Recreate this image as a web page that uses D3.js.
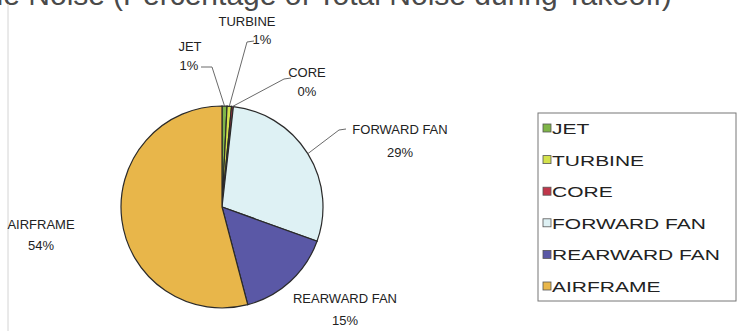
<!DOCTYPE html>
<html>
<head>
<meta charset="utf-8">
<script src="https://cdn.jsdelivr.net/npm/d3@7"></script>
<style>
  body { margin: 0; background: #fff; }
  text { font-family: "Liberation Sans", Arial, sans-serif; }
</style>
</head>
<body>
<div id="chart"></div>
<script>
// noise share by source, in percent
var sources = ['JET', 'TURBINE', 'CORE', 'FORWARD FAN', 'REARWARD FAN', 'AIRFRAME'];
var shares = [0.8, 0.7, 0.3, 28.7, 15.4, 54.1];
var colors = ['#7fb548', '#d4e24c', '#c0364a', '#def1f4', '#5a58a6', '#e8b64a'];

var width = 755, height = 331;

var svg = d3.select('#chart')
  .append('svg')
    .attr('width', width)
    .attr('height', height);

// title line, mostly above the top edge
svg.append('text')
    .attr('x', 105).attr('y', 5)
    .attr('font-size', '30px')
    .attr('fill', '#4a4a4a')
    .style('text-anchor', 'end')
    .text('Engine Noise');
svg.append('text')
    .attr('x', 113).attr('y', 5)
    .attr('font-size', '30px')
    .attr('fill', '#4a4a4a')
    .text('(Percentage of Total Noise during Takeoff)');

// plot area edge
svg.append('line')
    .attr('x1', 8).attr('x2', 8)
    .attr('y1', 4).attr('y2', height)
    .attr('stroke', '#d4d4d4');

var cx = 222, cy = 207, r = 101;

var data = sources.map(function(s, i) { return {name: s, value: shares[i], color: colors[i]}; });

var pie = d3.pie().sort(null).value(function(d) { return d.value; });
var arc = d3.arc().innerRadius(0).outerRadius(r);
var arcs = pie(data);

var g = svg.append('g')
    .attr('transform', 'translate(' + cx + ',' + cy + ')');

g.selectAll('path')
  .data(arcs)
  .enter().append('path')
    .attr('d', arc)
    .attr('fill', function(d) { return d.data.color; })
    .attr('stroke', '#2a2a2a')
    .attr('stroke-width', 1.2);

// label placement
var labelPos = {
  'JET':          {nx: 190, ny: 51,  px: 189, py: 70,  lead: [[201, 67], [212, 67]]},
  'TURBINE':      {nx: 247, ny: 26,  px: 262, py: 44,  lead: [[254, 41], [247, 42]]},
  'CORE':         {nx: 307, ny: 77,  px: 307, py: 96,  lead: [[291, 78], [284, 79]]},
  'FORWARD FAN':  {nx: 400, ny: 134, px: 400, py: 157, lead: [[346, 129], [339, 130]]},
  'REARWARD FAN': {nx: 345, ny: 303, px: 345, py: 325, lead: null},
  'AIRFRAME':     {nx: 41,  ny: 229, px: 41,  py: 250, lead: null}
};

var pct = d3.format('.0f');

arcs.forEach(function(a) {
  var p = labelPos[a.data.name];
  if (p.lead) {
    var mid = (a.startAngle + a.endAngle) / 2;
    var edge = [cx + r * Math.sin(mid), cy - r * Math.cos(mid)];
    svg.append('path')
        .attr('d', d3.line()(p.lead.concat([edge])))
        .attr('fill', 'none')
        .attr('stroke', '#6a6a6a')
        .attr('stroke-width', 1);
  }
  svg.append('text')
      .attr('x', p.nx).attr('y', p.ny)
      .attr('font-size', '13px')
      .attr('fill', '#222')
      .style('text-anchor', 'middle')
      .text(a.data.name);
  svg.append('text')
      .attr('x', p.px).attr('y', p.py)
      .attr('font-size', '13px')
      .attr('fill', '#222')
      .style('text-anchor', 'middle')
      .text(pct(a.data.value) + '%');
});

// legend
var lx = 538, ly = 113, lw = 198, lh = 188;
var legend = svg.append('g');
legend.append('rect')
    .attr('x', lx).attr('y', ly)
    .attr('width', lw).attr('height', lh)
    .attr('fill', '#fff')
    .attr('stroke', '#777');

var ly0 = 128, step = 31.6;
var items = legend.selectAll('g.item')
  .data(data)
  .enter().append('g')
    .attr('class', 'item')
    .attr('transform', function(d, i) { return 'translate(' + (lx + 5) + ',' + (ly0 + i * step) + ')'; });

items.append('rect')
    .attr('x', 0).attr('y', -4)
    .attr('width', 8).attr('height', 8)
    .attr('fill', function(d) { return d.color; })
    .attr('stroke', '#555')
    .attr('stroke-width', 0.8);

// legend text is set wide
items.append('text')
    .attr('transform', 'translate(9,6) scale(1.4,1)')
    .attr('font-size', '15px')
    .attr('fill', '#222')
    .text(function(d) { return d.name; });
</script>
</body>
</html>
